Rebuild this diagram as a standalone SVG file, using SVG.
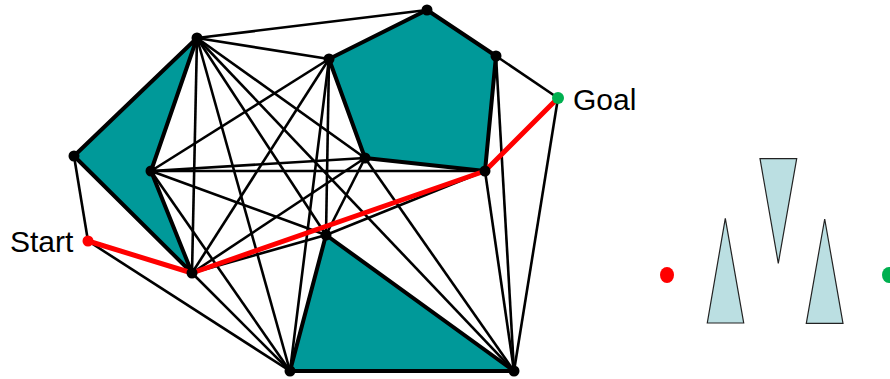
<svg xmlns="http://www.w3.org/2000/svg" width="890" height="379" viewBox="0 0 890 379">
<style>
.obs{fill:#009999;stroke:#000;stroke-width:4;stroke-linejoin:round}
.e{stroke:#000;stroke-width:2.6;fill:none}
.p{stroke:#ff0000;stroke-width:5;fill:none;stroke-linecap:round;stroke-linejoin:round}
.n{fill:#000}
.t{font-family:"Liberation Sans",Arial,sans-serif;font-size:30px;fill:#000}
.tri{fill:#bbdfe2;stroke:#222;stroke-width:1.2}
</style>
<g id="obstacles">
<polygon id="obs1" class="obs" points="197,38 74,156 192,273 151,171"/>
<polygon id="obs2" class="obs" points="329,59 427,10 496,56 485,171 365,158"/>
<polygon id="obs3" class="obs" points="326,235 290,371 514,371"/>
</g>
<g id="connectors">
<line class="e" x1="88" y1="241" x2="74" y2="156"/>
<line class="e" x1="88" y1="241" x2="290" y2="371"/>
<line class="e" x1="558" y1="98" x2="496" y2="56"/>
<line class="e" x1="558" y1="98" x2="514" y2="371"/>
<line class="e" x1="197" y1="38" x2="427" y2="10"/>
<line class="e" x1="197" y1="38" x2="329" y2="59"/>
<line class="e" x1="197" y1="38" x2="365" y2="158"/>
<line class="e" x1="197" y1="38" x2="192" y2="273"/>
<line class="e" x1="197" y1="38" x2="326" y2="235"/>
<line class="e" x1="197" y1="38" x2="290" y2="371"/>
<line class="e" x1="197" y1="38" x2="514" y2="371"/>
<line class="e" x1="151" y1="171" x2="329" y2="59"/>
<line class="e" x1="151" y1="171" x2="365" y2="158"/>
<line class="e" x1="151" y1="171" x2="485" y2="171"/>
<line class="e" x1="151" y1="171" x2="326" y2="235"/>
<line class="e" x1="151" y1="171" x2="290" y2="371"/>
<line class="e" x1="192" y1="273" x2="329" y2="59"/>
<line class="e" x1="192" y1="273" x2="365" y2="158"/>
<line class="e" x1="192" y1="273" x2="326" y2="235"/>
<line class="e" x1="192" y1="273" x2="290" y2="371"/>
<line class="e" x1="329" y1="59" x2="326" y2="235"/>
<line class="e" x1="329" y1="59" x2="290" y2="371"/>
<line class="e" x1="496" y1="56" x2="514" y2="371"/>
<line class="e" x1="485" y1="171" x2="326" y2="235"/>
<line class="e" x1="485" y1="171" x2="514" y2="371"/>
<line class="e" x1="365" y1="158" x2="326" y2="235"/>
<line class="e" x1="365" y1="158" x2="514" y2="371"/>
<polyline id="path" class="p" points="88,241 192,273 485,171 558,98"/>
</g>
<g id="nodes">
<circle class="n" cx="197" cy="38" r="5.5"/>
<circle class="n" cx="74" cy="156" r="5.5"/>
<circle class="n" cx="151" cy="171" r="5.5"/>
<circle class="n" cx="192" cy="273" r="5.5"/>
<circle class="n" cx="329" cy="59" r="5.5"/>
<circle class="n" cx="427" cy="10" r="5.5"/>
<circle class="n" cx="496" cy="56" r="5.5"/>
<circle class="n" cx="485" cy="171" r="5.5"/>
<circle class="n" cx="365" cy="158" r="5.5"/>
<circle class="n" cx="326" cy="235" r="5.5"/>
<circle class="n" cx="290" cy="371" r="5.5"/>
<circle class="n" cx="514" cy="371" r="5.5"/>
</g>
<g id="start">
<circle cx="88" cy="241" r="5.5" fill="#ff0000"/>
<text class="t" x="10" y="252">Start</text>
</g>
<g id="goal">
<circle cx="558" cy="98" r="6" fill="#00b050"/>
<text class="t" x="573" y="110">Goal</text>
</g>
<g id="right-scene">
<ellipse cx="667" cy="275" rx="7" ry="8" fill="#ff0000"/>
<ellipse cx="889" cy="275" rx="7" ry="8" fill="#00b050"/>
<polygon class="tri" points="725.3,218.3 743.7,323 707.3,323"/>
<polygon class="tri" points="760,158.7 796.7,158.7 778.3,263.3"/>
<polygon class="tri" points="824.7,219 843,323.3 806.3,323.3"/>
</g>
</svg>
